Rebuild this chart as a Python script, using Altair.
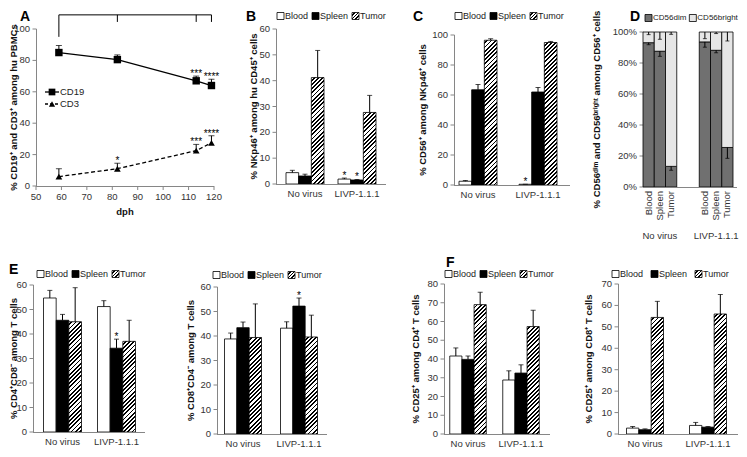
import altair as alt
import pandas as pd

FONT = "Liberation Sans"
W, H = 731, 441
M = 8
AXC = "#868686"
LABC = "#333333"
ST = -4  # lower row: shift of tops, legends and letters
SB = -7  # lower row: shift of baselines (keeps the category labels inside the page)


def cx(x):
    return x - M


def cy(y):
    return y - M


GROUPS = ["No virus", "LIVP-1.1.1"]
TISSUES = ["Blood", "Spleen", "Tumor"]

# ---------------- Panel A data ----------------
dph = [59, 82, 113, 119]
cd19 = [85, 80.5, 67, 64]
cd19_err = [4.5, 3, 3, 4]
cd19_sig = ["", "", "***", "****"]
cd3 = [6, 11, 22.5, 27.5]
cd3_err = [5, 3.5, 4, 4.5]
cd3_sig = ["", "*", "***", "****"]
bracket_drop = [95, 104.5, 104.5, 104.5]
bracket_level = 109
a_xticks = [50, 60, 70, 80, 90, 100, 110, 120]
a_yticks = [0, 20, 40, 60, 80, 100]

# ---------------- Panel B ----------------
b_vals = {"Blood": [4.4, 1.9], "Spleen": [3.1, 1.55], "Tumor": [41.2, 27.7]}
b_errs = {"Blood": [0.9, 0.4], "Spleen": [0.7, 0.2], "Tumor": [10.5, 6.6]}
b_sig = {"Blood": ["", "*"], "Spleen": ["", "*"], "Tumor": ["", ""]}

# ---------------- Panel C ----------------
c_vals = {"Blood": [2.5, 0.5], "Spleen": [63.5, 62.0], "Tumor": [96.5, 95.0]}
c_errs = {"Blood": [0.5, 0.0], "Spleen": [3.5, 3.0], "Tumor": [1.0, 0.7]}
c_sig = {"Blood": ["", "*"], "Spleen": ["", ""], "Tumor": ["", ""]}

# ---------------- Panel D ----------------
d_slots = ["Blood|NV", "Spleen|NV", "Tumor|NV", "|g1", "|g2", "Blood|LV", "Spleen|LV", "Tumor|LV"]
d_bar_slots = ["Blood|NV", "Spleen|NV", "Tumor|NV", "Blood|LV", "Spleen|LV", "Tumor|LV"]
d_bar_labels = ["Blood", "Spleen", "Tumor", "Blood", "Spleen", "Tumor"]
d_dim = [93.1, 87.6, 13.3, 93.6, 88.2, 25.5]
d_dim_low = [91.8, 84.3, 10.8, 90.2, 86.6, 18.5]
d_bright_low = [98.3, 95.3, 98.5, 95.7, 99.0, 94.2]
d_group_slots = ["Spleen|NV", "Spleen|LV"]
d_yticks = [0, 20, 40, 60, 80, 100]

# ---------------- Panel E ----------------
e1_vals = {"Blood": [54.7, 51.2], "Spleen": [45.6, 34.2], "Tumor": [45.0, 37.0]}
e1_errs = {"Blood": [3.1, 2.4], "Spleen": [2.4, 3.7], "Tumor": [13.9, 8.6]}
e1_sig = {"Blood": ["", ""], "Spleen": ["", "*"], "Tumor": ["", ""]}

e2_vals = {"Blood": [38.8, 43.2], "Spleen": [43.4, 52.2], "Tumor": [39.4, 39.6]}
e2_errs = {"Blood": [2.4, 2.6], "Spleen": [2.3, 3.3], "Tumor": [13.7, 8.9]}
e2_sig = {"Blood": ["", ""], "Spleen": ["", "*"], "Tumor": ["", ""]}

# ---------------- Panel F ----------------
f1_vals = {"Blood": [41.6, 28.8], "Spleen": [39.8, 32.5], "Tumor": [69.0, 57.3]}
f1_errs = {"Blood": [4.3, 4.9], "Spleen": [1.8, 4.4], "Tumor": [6.6, 8.7]}
f1_sig = {"Blood": ["", ""], "Spleen": ["", ""], "Tumor": ["", ""]}

f2_vals = {"Blood": [2.75, 4.0], "Spleen": [2.0, 3.2], "Tumor": [54.4, 56.0]}
f2_errs = {"Blood": [0.75, 1.4], "Spleen": [0.4, 0.3], "Tumor": [7.5, 9.1]}
f2_sig = {"Blood": ["", ""], "Spleen": ["", ""], "Tumor": ["", ""]}

# ---------------- helpers ----------------
CW = {'B': .667, 'l': .222, 'o': .556, 'd': .556, 'S': .667, 'p': .556, 'e': .556,
      'n': .556, 'T': .611, 'u': .556, 'm': .833, 'r': .333, 'C': .722, 'D': .722,
      '5': .556, '6': .556, 'i': .222, 'b': .556, 'g': .556, 'h': .556, 't': .278}


def tw(s, fs):
    return sum(CW.get(c, 0.556) for c in s) * fs


def hatch(w, h, period=4.2, dark=0.45):
    L = w + h
    s = L * w / (w * w + h * h)
    stops = []
    d = 0.0
    while d < L - 1e-9:
        a = d / L
        b = min((d + period * (1 - dark)) / L, 1.0)
        c = min((d + period) / L, 1.0)
        stops += [alt.GradientStop(offset=round(a, 5), color="white"),
                  alt.GradientStop(offset=round(b, 5), color="white"),
                  alt.GradientStop(offset=round(b, 5), color="black"),
                  alt.GradientStop(offset=round(c, 5), color="black")]
        d += period
    return alt.LinearGradient(gradient="linear", stops=stops, x1=0, y1=0,
                              x2=round(s, 5), y2=round(s * h / w, 5))


def band_scale(domain, x0, x1, c1, c2, bw):
    Wd = x1 - x0
    step = c2 - c1
    pi = 1 - bw / step
    po = max((Wd / step - 2 + pi) / 2, 0)
    extra = Wd - step * (2 - pi)
    align = (c1 - bw / 2 - x0) / extra if extra > 0 else 0.5
    align = min(max(align, 0), 1)
    return alt.Scale(domain=domain, range=[cx(x0), cx(x1)], paddingInner=pi,
                     paddingOuter=po, align=align, round=False)


ONE = pd.DataFrame({"k": [0]})


def letter(ch, x, y):
    return alt.Chart(ONE).mark_text(text=ch, fontSize=14, fontWeight="bold", font=FONT,
                                    align="left", baseline="middle", color="black").encode(
        x=alt.value(cx(x)), y=alt.value(cy(y)))


def legend(items, x_start, y, fs=9, gap=4, sw=7):
    layers = []
    x = x_start
    for label, fill in items:
        layers.append(alt.Chart(ONE).mark_square(size=sw * sw, fill=fill, stroke="black",
                                                 strokeWidth=0.8, opacity=1).encode(
            x=alt.value(cx(x + sw / 2)), y=alt.value(cy(y))))
        layers.append(alt.Chart(ONE).mark_text(text=label, fontSize=fs, font=FONT, align="left",
                                               baseline="middle", color="#222").encode(
            x=alt.value(cx(x + sw + 1)), y=alt.value(cy(y))))
        x += sw + 1 + tw(label, fs) + gap
    return layers


def y_axis(ys, x0, ticks, title, title_cx, ytop, ybot, suffix=""):
    xa = x0 + 0.5
    dft = pd.DataFrame({"v": ticks, "lab": [f"{v}{suffix}" for v in ticks]})
    dfd = pd.DataFrame({"a": [ticks[0]], "b": [ticks[-1]]})
    return [
        alt.Chart(dfd).mark_rule(color=AXC, strokeWidth=1).encode(
            x=alt.value(cx(xa)), y=alt.Y("a:Q", scale=ys, axis=None), y2="b:Q"),
        alt.Chart(dft).mark_rule(color=AXC, strokeWidth=1).encode(
            x=alt.value(cx(xa - 4)), x2=alt.value(cx(xa)), y=alt.Y("v:Q", scale=ys, axis=None)),
        alt.Chart(dft).mark_text(align="right", baseline="middle", fontSize=9.5, font=FONT,
                                 color=LABC).encode(
            x=alt.value(cx(x0 - 6)), y=alt.Y("v:Q", scale=ys, axis=None), text="lab:N"),
        alt.Chart(ONE).mark_text(text=title, angle=270, fontSize=9.5, fontWeight="bold", font=FONT,
                                 align="center", baseline="middle", color="#111").encode(
            x=alt.value(cx(title_cx)), y=alt.value(cy((ytop + ybot) / 2))),
    ]


def baseline_rule(x0, x1, ybot):
    return alt.Chart(ONE).mark_rule(color=AXC, strokeWidth=1).encode(
        x=alt.value(cx(x0)), x2=alt.value(cx(x1)), y=alt.value(cy(ybot + 0.5)))


def bar_panel(vals, errs, sig, ymax, ystep, x0, x1, c1, c2, bw, ytop, ybot, title, title_cx,
              leg_x, leg_y, leg_gap, let=None):
    rows = []
    for t in TISSUES:
        for gi, g in enumerate(GROUPS):
            rows.append(dict(group=g, tissue=t, value=vals[t][gi], err=errs[t][gi],
                             star=sig[t][gi]))
    df = pd.DataFrame(rows)
    df["top"] = df["value"] + df["err"]
    xs = band_scale(GROUPS, x0, x1, c1, c2, bw)
    xos = alt.Scale(domain=TISSUES, paddingInner=0, paddingOuter=0)
    ys = alt.Scale(domain=[0, ymax], range=[cy(ybot), cy(ytop)], nice=False, zero=True)

    def X():
        return alt.X("group:N", scale=xs, axis=None, sort=GROUPS)

    XO = alt.XOffset("tissue:N", scale=xos, sort=TISSUES)

    def Y(field="value"):
        return alt.Y(f"{field}:Q", scale=ys, axis=None)

    base = alt.Chart(df)
    layers = y_axis(ys, x0, list(range(0, ymax + 1, ystep)), title, title_cx, ytop, ybot)
    layers += [
        base.transform_filter(alt.datum.tissue == "Blood").mark_bar(
            fill="white", stroke="black", strokeWidth=0.8).encode(x=X(), xOffset=XO, y=Y()),
        base.transform_filter(alt.datum.tissue == "Spleen").mark_bar(
            fill="black", stroke="black", strokeWidth=0.8).encode(x=X(), xOffset=XO, y=Y()),
    ]
    pxu = (ybot - ytop) / ymax
    for gi, g in enumerate(GROUPS):
        v = vals["Tumor"][gi]
        grad = hatch(bw / 3, v * pxu)
        layers.append(base.transform_filter(
            (alt.datum.tissue == "Tumor") & (alt.datum.group == g)).mark_bar(
            fill=grad, stroke="black", strokeWidth=0.8).encode(x=X(), xOffset=XO, y=Y()))
    layers.append(baseline_rule(x0, x1, ybot))
    layers.append(alt.Chart(pd.DataFrame({"group": GROUPS})).mark_text(
        fontSize=9.5, font=FONT, baseline="middle", color=LABC).encode(
        x=X(), y=alt.value(cy(ybot + 9.5)), text="group:N"))
    layers.append(base.mark_rule(color="black", strokeWidth=1).encode(
        x=X(), xOffset=XO, y=Y("value"), y2="top:Q"))
    layers.append(base.mark_tick(color="black", thickness=1, size=5, orient="horizontal").encode(
        x=X(), xOffset=XO, y=Y("top")))
    layers.append(base.transform_filter(alt.datum.star != "").mark_text(
        fontSize=10, font=FONT, dy=1, baseline="alphabetic", color="black").encode(
        x=X(), xOffset=XO, y=Y("top"), text="star:N"))
    layers += legend([("Blood", "white"), ("Spleen", "black"),
                      ("Tumor", hatch(7, 7, period=3.6))], leg_x, leg_y, gap=leg_gap)
    if let:
        layers.append(letter(*let))
    return alt.layer(*layers)


# ---------------- Panel A chart ----------------
dfA = pd.DataFrame({
    "dph": dph * 2,
    "series": ["CD19"] * 4 + ["CD3"] * 4,
    "value": cd19 + cd3,
    "err": cd19_err + cd3_err,
    "star": cd19_sig + cd3_sig,
})
dfA["top"] = dfA["value"] + dfA["err"]
A_X0, A_X1, A_TOP, A_BOT = 36, 214, 29, 186
xA = alt.Scale(domain=[50, 120], range=[cx(A_X0), cx(A_X1)], nice=False, zero=False)
yA = alt.Scale(domain=[0, 100], range=[cy(A_BOT), cy(A_TOP)], nice=False)
baseA = alt.Chart(dfA)
dfBr = pd.DataFrame({"x": dph, "lvl": [bracket_level] * 4, "drop": bracket_drop})
dfBrH = pd.DataFrame({"x": [dph[0]], "x2": [dph[-1]], "lvl": [bracket_level]})
dfAx = pd.DataFrame({"v": a_xticks, "lab": [str(v) for v in a_xticks]})


def XA(field="dph"):
    return alt.X(f"{field}:Q", scale=xA, axis=None)


def YA(field="value"):
    return alt.Y(f"{field}:Q", scale=yA, axis=None)


panelA = alt.layer(
    *y_axis(yA, A_X0, a_yticks, "% CD19⁺ and CD3⁺ among hu PBMCs", 14, A_TOP, A_BOT),
    baseline_rule(A_X0, A_X1, A_BOT),
    alt.Chart(dfAx).mark_rule(color=AXC, strokeWidth=1).encode(
        x=XA("v"), y=alt.value(cy(A_BOT)), y2=alt.value(cy(A_BOT + 4))),
    alt.Chart(dfAx).mark_text(fontSize=9.5, font=FONT, baseline="middle", color=LABC).encode(
        x=XA("v"), y=alt.value(cy(A_BOT + 11)), text="lab:N"),
    alt.Chart(ONE).mark_text(text="dph", fontSize=9.5, fontWeight="bold", font=FONT,
                             baseline="middle", color="#111").encode(
        x=alt.value(cx((A_X0 + A_X1) / 2)), y=alt.value(cy(A_BOT + 26))),
    baseA.transform_filter(alt.datum.series == "CD19").mark_line(color="black", strokeWidth=1.3).encode(
        x=XA(), y=YA()),
    baseA.transform_filter(alt.datum.series == "CD3").mark_line(color="black", strokeWidth=1.3,
                                                              strokeDash=[4, 2.5]).encode(
        x=XA(), y=YA()),
    baseA.mark_rule(color="black", strokeWidth=1).encode(x=XA(), y=YA(), y2="top:Q"),
    baseA.mark_tick(color="black", thickness=1, size=6, orient="horizontal").encode(
        x=XA(), y=YA("top")),
    baseA.transform_filter(alt.datum.series == "CD19").mark_square(size=55, color="black", opacity=1).encode(
        x=XA(), y=YA()),
    baseA.transform_filter(alt.datum.series == "CD3").mark_point(shape="triangle-up", filled=True,
                                                               size=45, color="black", opacity=1).encode(
        x=XA(), y=YA()),
    baseA.transform_filter(alt.datum.star != "").mark_text(fontSize=10, font=FONT, dy=1,
                                                          baseline="alphabetic", color="black").encode(
        x=XA(), y=YA("top"), text="star:N"),
    alt.Chart(dfBrH).mark_rule(color="black", strokeWidth=1).encode(
        x=XA("x"), x2="x2:Q", y=YA("lvl")),
    alt.Chart(dfBr).mark_rule(color="black", strokeWidth=1).encode(
        x=XA("x"), y=YA("lvl"), y2="drop:Q"),
    # inline legend
    alt.Chart(ONE).mark_rule(color="black", strokeWidth=1.3).encode(
        x=alt.value(cx(45)), x2=alt.value(cx(59)), y=alt.value(cy(92))),
    alt.Chart(ONE).mark_square(size=45, color="black", opacity=1).encode(
        x=alt.value(cx(52)), y=alt.value(cy(92))),
    alt.Chart(ONE).mark_text(text="CD19", fontSize=9.5, font=FONT, align="left", baseline="middle",
                             color="#222").encode(x=alt.value(cx(60)), y=alt.value(cy(92))),
    alt.Chart(ONE).mark_rule(color="black", strokeWidth=1.3, strokeDash=[3, 2]).encode(
        x=alt.value(cx(45)), x2=alt.value(cx(59)), y=alt.value(cy(104))),
    alt.Chart(ONE).mark_point(shape="triangle-up", filled=True, size=38, color="black", opacity=1).encode(
        x=alt.value(cx(52)), y=alt.value(cy(104))),
    alt.Chart(ONE).mark_text(text="CD3", fontSize=9.5, font=FONT, align="left", baseline="middle",
                             color="#222").encode(x=alt.value(cx(60)), y=alt.value(cy(104))),
    letter("A", 20, 16.5),
)

# ---------------- Panel D chart ----------------
dfD = pd.DataFrame({"slot": d_bar_slots, "lab": d_bar_labels, "dim": d_dim, "dimlo": d_dim_low,
                    "brightlo": d_bright_low, "full": [100] * 6})
dfDG = pd.DataFrame({"slot": d_group_slots, "label": GROUPS})
D_X0, D_X1, D_TOP, D_BOT = 643, 733, 32, 187
xD = alt.Scale(domain=d_slots, range=[cx(D_X0), cx(D_X1)], paddingInner=0, paddingOuter=0,
               round=False)
yD = alt.Scale(domain=[0, 100], range=[cy(D_BOT), cy(D_TOP)], nice=False)
baseD = alt.Chart(dfD)
DIM = "#707070"
BRIGHT = "#e6e6e6"


def XD():
    return alt.X("slot:N", scale=xD, axis=None, sort=d_slots)


def YD(field):
    return alt.Y(f"{field}:Q", scale=yD, axis=None)


panelD = alt.layer(
    *y_axis(yD, D_X0, d_yticks, "% CD56ᵈⁱᵐ and CD56ᵇʳⁱᵍʰᵗ among CD56⁺ cells", 597, D_TOP, D_BOT,
            suffix="%"),
    baseD.mark_bar(fill=DIM, stroke="black", strokeWidth=0.8).encode(x=XD(), y=YD("dim")),
    baseD.mark_bar(fill=BRIGHT, stroke="black", strokeWidth=0.8).encode(
        x=XD(), y=YD("dim"), y2="full:Q"),
    baseline_rule(D_X0, D_X1 + 4, D_BOT),
    baseD.mark_rule(color="black", strokeWidth=1).encode(x=XD(), y=YD("dim"), y2="dimlo:Q"),
    baseD.mark_tick(color="black", thickness=1, size=4, orient="horizontal").encode(
        x=XD(), y=YD("dimlo")),
    baseD.mark_rule(color="black", strokeWidth=1).encode(x=XD(), y=YD("full"), y2="brightlo:Q"),
    baseD.mark_tick(color="black", thickness=1, size=4, orient="horizontal").encode(
        x=XD(), y=YD("brightlo")),
    baseD.mark_text(angle=270, align="right", baseline="middle", fontSize=9.5, font=FONT,
                    color=LABC).encode(x=XD(), y=alt.value(cy(D_BOT + 4)), text="lab:N"),
    alt.Chart(dfDG).mark_text(fontSize=9.5, font=FONT, baseline="middle", color=LABC).encode(
        x=XD(), y=alt.value(cy(236)), text="label:N"),
    *legend([("CD56dim", DIM), ("CD56bright", BRIGHT)], 645, 18, fs=8, gap=3),
    letter("D", 630, 16.5),
)

# ---------------- bar panels ----------------
panelB = bar_panel(b_vals, b_errs, b_sig, 60, 10, 276, 386, 305, 357, 38, 29, 184,
                   "% NKp46⁺ among hu CD45⁺ cells", 254, 277, 16, 4, ("B", 246, 16.5))
panelC = bar_panel(c_vals, c_errs, c_sig, 100, 20, 454, 570, 478, 538, 38, 35, 185,
                   "% CD56⁺ among NKp46⁺ cells", 423, 455, 16, 4, ("C", 413, 16.5))
panelE1 = bar_panel(e1_vals, e1_errs, e1_sig, 60, 10, 33, 145, 62.5, 116.5, 38, 289 + ST, 439 + SB,
                    "% CD4⁺CD8⁻ among T cells", 14, 37, 278 + ST, 4, ("E", 9, 274 + ST))
panelE2 = bar_panel(e2_vals, e2_errs, e2_sig, 60, 10, 217, 327, 243, 299, 37, 291 + ST, 441 + SB,
                    "% CD8⁺CD4⁻ among T cells", 191, 213, 279 + ST, 4)
panelF1 = bar_panel(f1_vals, f1_errs, f1_sig, 80, 10, 444, 550, 468, 521, 36.5, 288 + ST, 441 + SB,
                    "% CD25⁺ among CD4⁺ T cells", 416, 445, 278 + ST, 4, ("F", 446, 267 + ST))
panelF2 = bar_panel(f2_vals, f2_errs, f2_sig, 70, 10, 618, 738, 645, 708, 37, 288 + ST, 441 + SB,
                    "% CD25⁺ among CD8⁺ T cells", 589, 612, 278 + ST, 8)

chart = alt.layer(panelA, panelB, panelC, panelD, panelE1, panelE2, panelF1, panelF2).resolve_scale(
    x="independent", y="independent", xOffset="independent"
).properties(
    width=W, height=H, padding=0, autosize=alt.AutoSizeParams(type="none")
).configure_view(stroke=None).configure_text(font=FONT)

chart.save("out.html", embed_options={"renderer": "svg", "actions": False})
